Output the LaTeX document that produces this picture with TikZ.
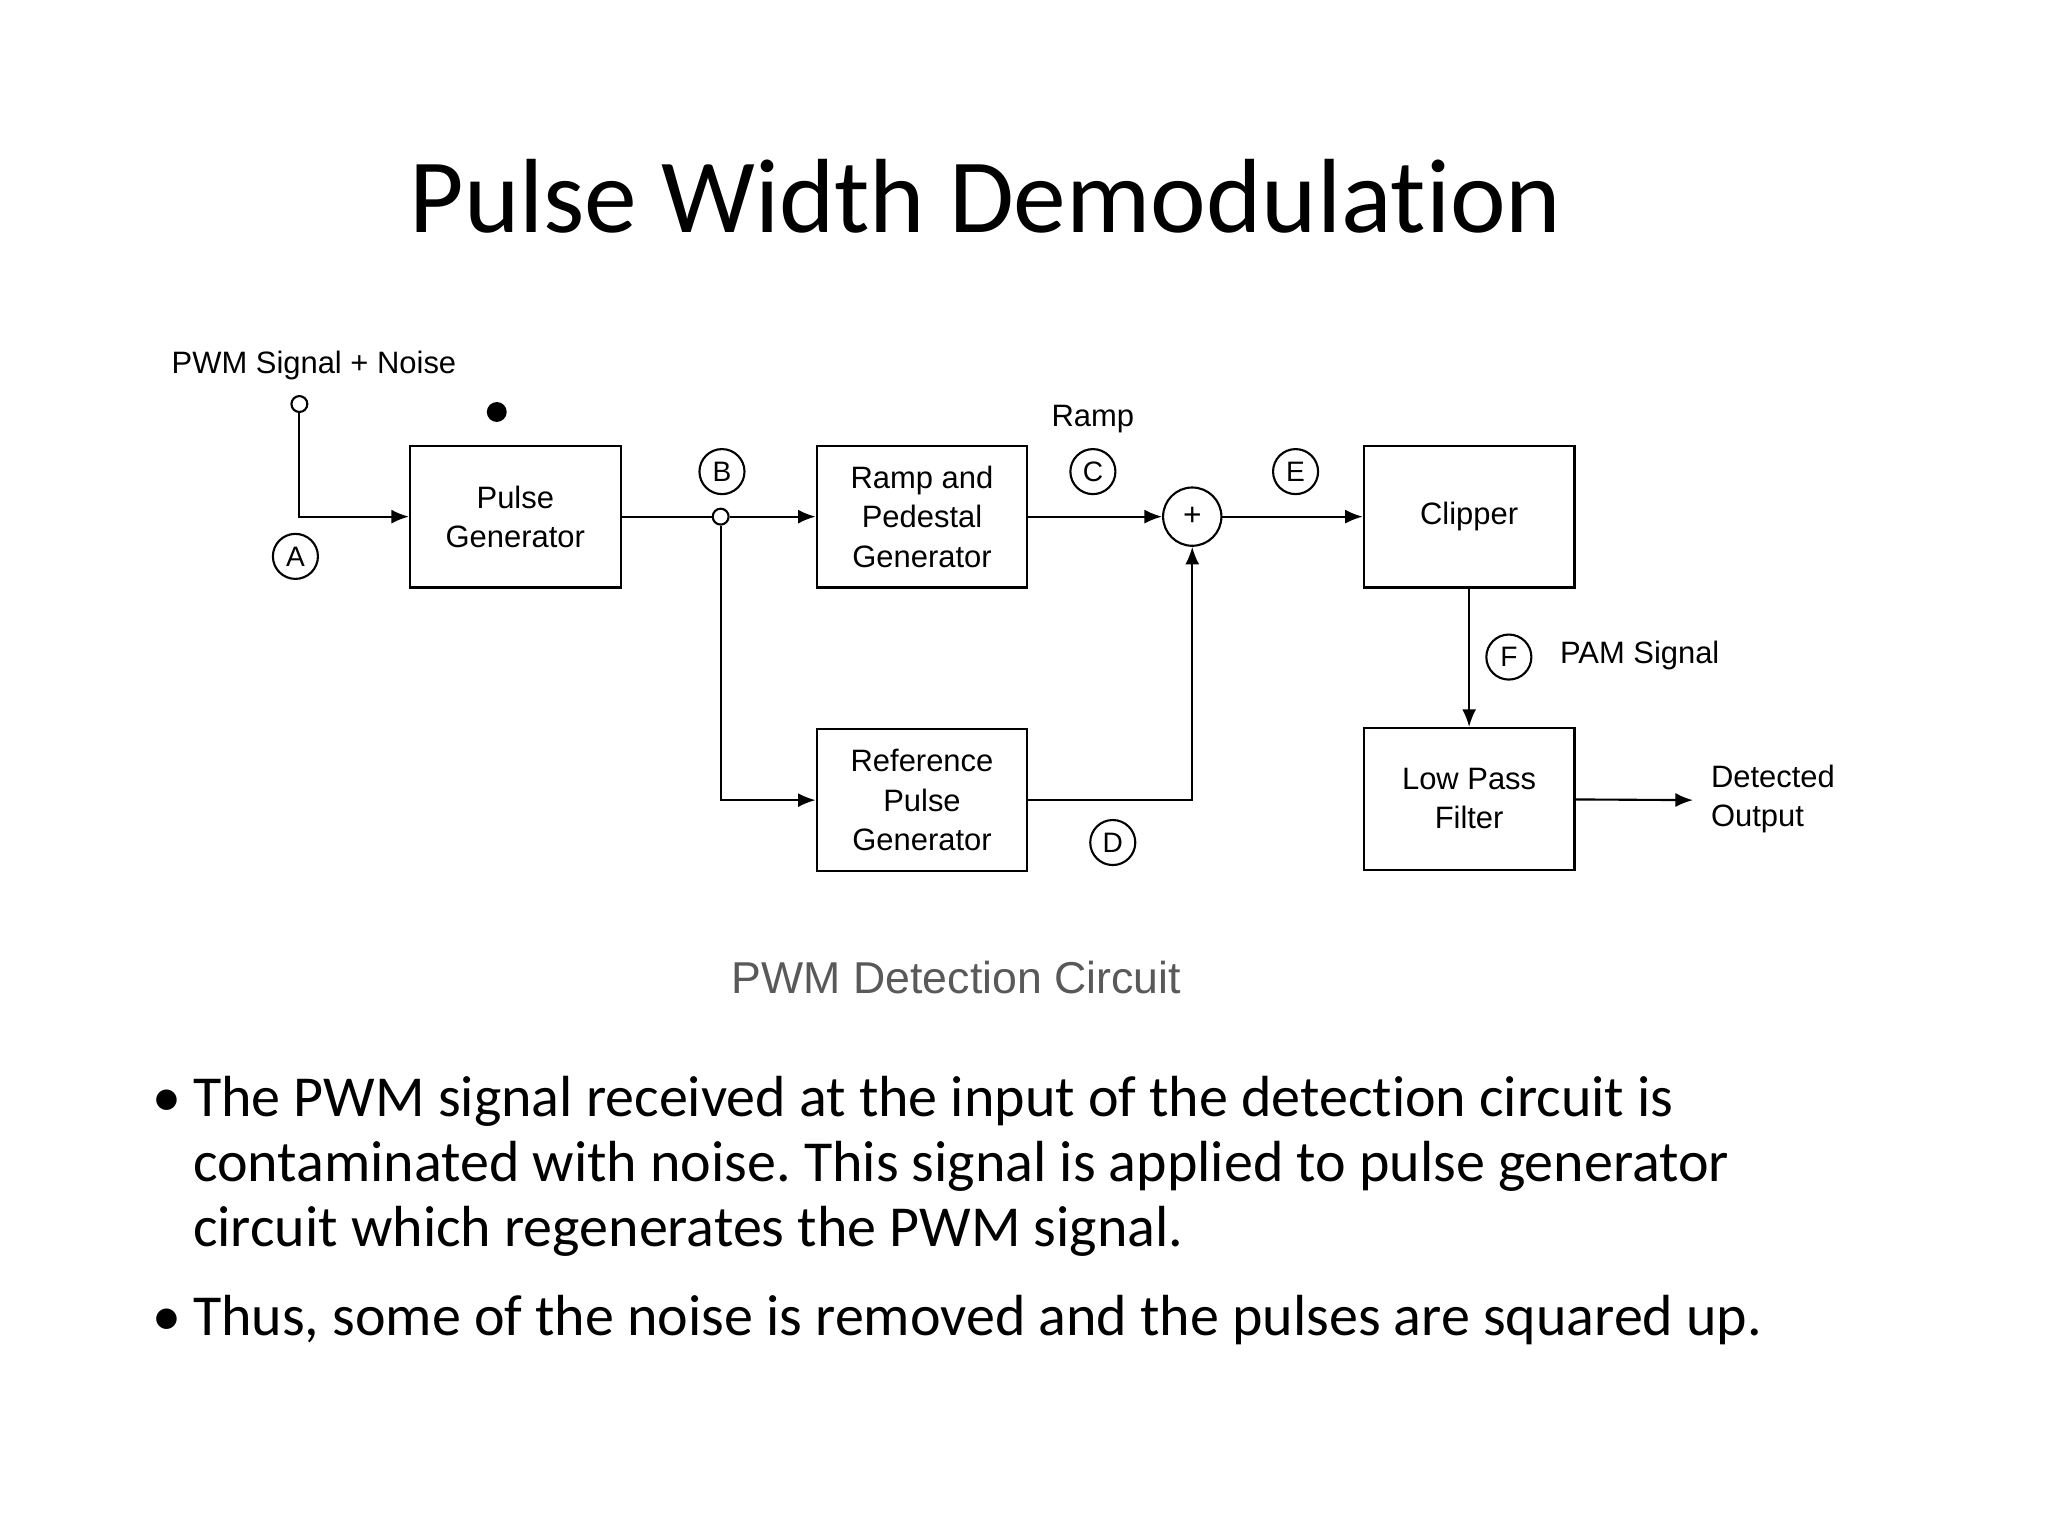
\documentclass[tikz,border=0pt]{standalone}
\usepackage{fontspec}
\setmainfont[Ligatures=NoCommon]{Carlito}
\newfontfamily\arialf{Liberation Sans}
\usetikzlibrary{arrows.meta}
\frenchspacing
\begin{document}
\begin{tikzpicture}[x=0.01325cm, y=-0.01325cm, every path/.style={line width=0.6pt},
  blk/.style={draw, minimum width=159*0.01325cm, minimum height=107*0.01325cm, align=center, font=\arialf\fontsize{8.8}{11.2}\selectfont, inner sep=0pt},
  lbl/.style={draw, circle, minimum size=34*0.01325cm, inner sep=0pt, font=\arialf\fontsize{8}{9}\selectfont},
  txt/.style={font=\arialf\fontsize{8.8}{11.2}\selectfont, align=left},
  ln/.style={anchor=base west, inner sep=0pt, font=\fontsize{16.5}{20}\selectfont},
  arr/.style={-{Latex[length=5pt, width=4pt]}}]
  \useasboundingbox (0,0) rectangle (1546,1160);

  % title
  \node (title) at (744,148) {\fontsize{30}{36}\selectfont Pulse Width Demodulation};

  % blocks
  \node[blk] (pg) at (389,390) {Pulse\\Generator};
  \node[blk] (rp) at (696,390) {Ramp and\\Pedestal\\Generator};
  \node[blk] (rf) at (696,604) {Reference\\Pulse\\Generator};
  \node[blk] (cl) at (1109,390) {Clipper};
  \node[blk] (lp) at (1109,603) {Low Pass\\Filter};
  \node[draw, circle, minimum size=44*0.01325cm, inner sep=0pt, font=\arialf\small] (sum) at (900,390) {+};

  % points
  \node[draw, circle, fill=white, inner sep=1.6pt] (in) at (226,305) {};
  \node[draw, circle, fill=white, inner sep=1.6pt] (jb) at (544,390) {};
  \node[circle, fill=black, inner sep=2pt] (dot) at (375,311) {};
  \coordinate (jd) at (544,604);
  \coordinate (sd) at (900,604);
  \coordinate (out) at (1278,604);
  \coordinate (ja) at (226,390);

  % connectors
  \draw[arr] (in) -- (ja) -- (pg);
  \draw (pg) -- (jb);
  \draw[arr] (jb) -- (rp);
  \draw[arr] (jb) -- (jd) -- (rf);
  \draw[arr] (rp) -- (sum);
  \draw[arr] (rf) -- (sd) -- (sum);
  \draw[arr] (sum) -- (cl);
  \draw[arr] (cl) -- (lp);
  \draw[arr] (lp) -- (out);

  % point labels
  \node[lbl] (la) at (223,420) {A};
  \node[lbl] (lb) at (545,356) {B};
  \node[lbl] (lc) at (825,356) {C};
  \node[lbl] (le) at (978,356) {E};
  \node[lbl] (ld) at (840,636) {D};
  \node[lbl] (lf) at (1139,496) {F};

  % texts
  \node[txt] (tin) at (237,276) {PWM Signal + Noise};
  \node[txt] (tramp) at (825,316) {Ramp};
  \node[txt, anchor=west] (tpam) at (1168,495) {PAM Signal};
  \node[txt, anchor=west] (tout) at (1282,603) {Detected\\Output};
  \node[font=\arialf\fontsize{12.7}{15}\selectfont, text=black!65] (cap) at (722,738) {PWM Detection Circuit};

  % bullets
  \node[ln] (b1) at (114,843) {\textbullet};
  \node[ln] (l1) at (145,843) {The PWM signal received at the input of the detection circuit is};
  \node[ln] (l2) at (145,892) {contaminated with noise. This signal is applied to pulse generator};
  \node[ln] (l3) at (145,941) {circuit which regenerates the PWM signal.};
  \node[ln] (b2) at (114,1008) {\textbullet};
  \node[ln] (l4) at (145,1008) {Thus, some of the noise is removed and the pulses are squared up.};
\end{tikzpicture}
\end{document}
